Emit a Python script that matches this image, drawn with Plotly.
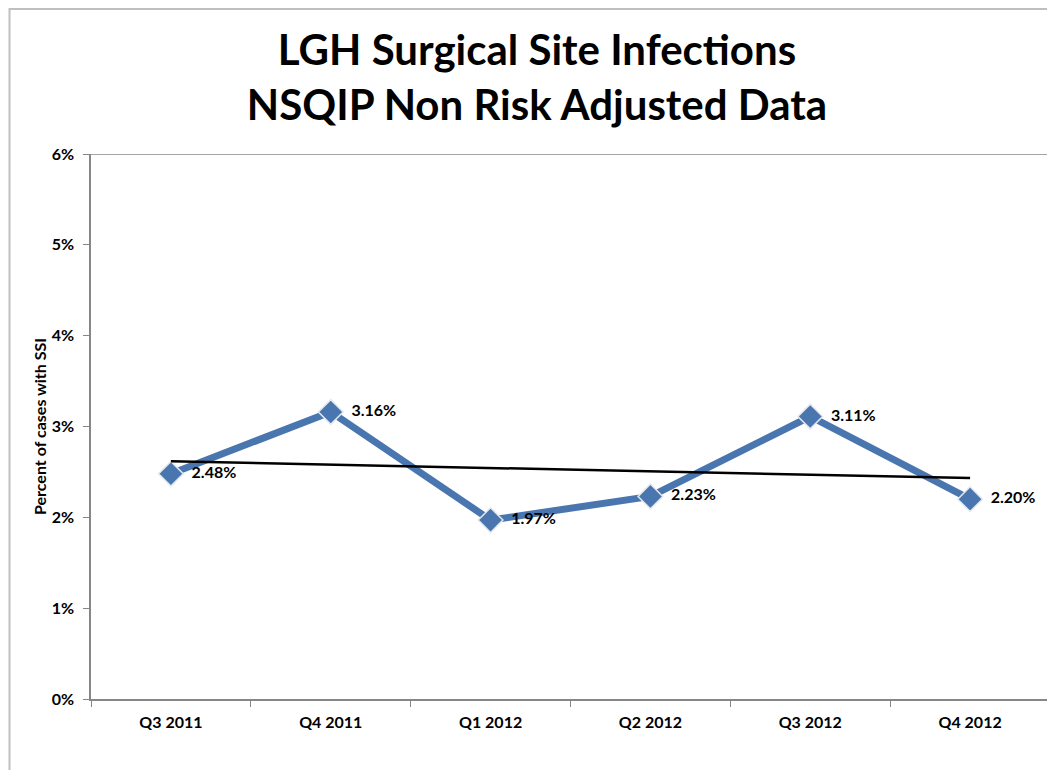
import numpy as np
import plotly.graph_objects as go

quarters = ["Q3 2011", "Q4 2011", "Q1 2012", "Q2 2012", "Q3 2012", "Q4 2012"]
ssi_rate = [0.0248, 0.0316, 0.0197, 0.0223, 0.0311, 0.0220]
labels = ["2.48%", "3.16%", "1.97%", "2.23%", "3.11%", "2.20%"]

# linear trendline (least squares fit of the series)
idx = np.arange(1, len(ssi_rate) + 1)
slope, intercept = np.polyfit(idx, ssi_rate, 1)
trend = list(intercept + slope * idx)

FONT = "Lato"
LINE_BLUE = "#4A76B0"
AXIS_GRAY = "#868686"

fig = go.Figure()
fig.add_trace(go.Scatter(
    x=quarters, y=ssi_rate, mode="lines+markers+text",
    line=dict(color=LINE_BLUE, width=7),
    marker=dict(symbol="diamond", size=19, color=LINE_BLUE,
                line=dict(color="#E4E8EE", width=1.5)),
    text=["  " + t for t in labels], textposition="middle right",
    textfont=dict(family=FONT, size=16, color="black", weight="bold"),
    showlegend=False, cliponaxis=False,
))
fig.add_trace(go.Scatter(
    x=quarters, y=trend, mode="lines",
    line=dict(color="black", width=2.5),
    showlegend=False, hoverinfo="skip",
))

W, H = 1055, 770
L, R, T, B = 83, 13, 146, 79
pw, ph = W - L - R, H - T - B

fig.update_layout(
    width=W, height=H,
    margin=dict(l=L, r=R, t=T, b=B),
    paper_bgcolor="white", plot_bgcolor="white",
    title=dict(
        text="LGH Surgical Site Infections<br>NSQIP Non Risk Adjusted Data",
        x=(537 - 8) / W, xanchor="center", y=1 - 57 / H, yanchor="middle",
        yref="container",
        font=dict(family=FONT, size=42, color="black", weight="bold"),
    ),
    xaxis=dict(
        range=[-0.5, len(quarters) - 0.5],
        showgrid=False, showline=True, linecolor=AXIS_GRAY, linewidth=1.5,
        ticks="outside", tickson="boundaries", ticklen=6, tickcolor=AXIS_GRAY,
        ticklabelstandoff=8,
        tickfont=dict(family=FONT, size=16, color="black", weight="bold"),
        zeroline=False,
    ),
    yaxis=dict(
        range=[0, 0.06], dtick=0.01, tickformat=".0%",
        showgrid=False, showline=True, linecolor=AXIS_GRAY, linewidth=1.5,
        ticks="outside", ticklen=6, tickcolor=AXIS_GRAY, ticklabelstandoff=6,
        tickfont=dict(family=FONT, size=16, color="black", weight="bold"),
        zeroline=False,
        title=dict(text="Percent of cases with SSI", standoff=1,
                   font=dict(family=FONT, size=16, color="black", weight="bold")),
    ),
    shapes=[
        dict(type="line", xref="paper", yref="y", x0=0, x1=1, y0=0.06, y1=0.06,
             line=dict(color=AXIS_GRAY, width=1.5)),
        dict(type="rect", xref="paper", yref="paper",
             x0=(1.5 - L) / pw, x1=1 + 40 / pw,
             y0=-(B + 20) / ph, y1=1 + (T - 1) / ph,
             line=dict(color="#BFBFBF", width=2), layer="below"),
    ],
)

fig.write_html("out.html")
